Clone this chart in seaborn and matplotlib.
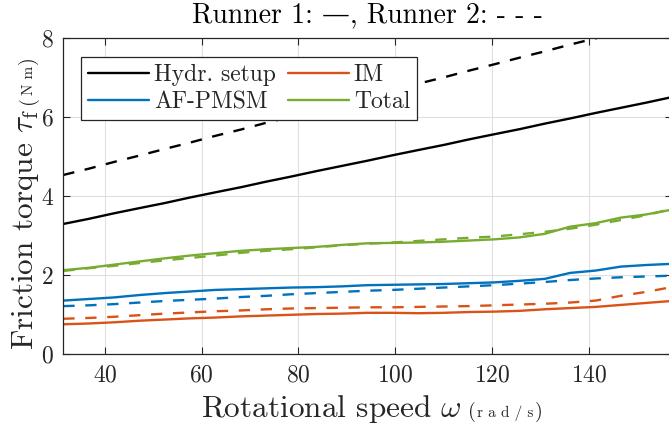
import matplotlib
matplotlib.use("Agg")
import matplotlib.pyplot as plt
from matplotlib.lines import Line2D
import pandas as pd
import seaborn as sns

# ---------------- data ----------------
omega = [31.4, 36.7, 41.9, 47.1, 52.4, 57.6, 62.8, 68.1, 73.3, 78.5, 83.8, 89.0, 94.2,
         99.5, 104.7, 110.0, 115.2, 120.4, 125.7, 130.9, 136.1, 141.4, 146.6, 151.8, 157.1]

hydr_r1 = [3.30, 3.43, 3.57, 3.70, 3.83, 3.97, 4.10, 4.23, 4.37, 4.50, 4.64, 4.77, 4.90,
           5.04, 5.17, 5.30, 5.44, 5.57, 5.70, 5.84, 5.97, 6.11, 6.24, 6.37, 6.51]
hydr_r2 = [4.54, 4.70, 4.87, 5.03, 5.20, 5.36, 5.53, 5.69, 5.86, 6.02, 6.19, 6.35, 6.52,
           6.68, 6.85, 7.01, 7.18, 7.34, 7.51, 7.67, 7.84, 8.00, 8.17, 8.33, 8.50]
afpmsm_r1 = [1.36, 1.40, 1.44, 1.50, 1.55, 1.59, 1.63, 1.65, 1.67, 1.69, 1.70, 1.72, 1.75,
             1.76, 1.77, 1.78, 1.80, 1.82, 1.86, 1.91, 2.06, 2.12, 2.22, 2.26, 2.29]
afpmsm_r2 = [1.22, 1.24, 1.27, 1.31, 1.35, 1.38, 1.41, 1.45, 1.48, 1.52, 1.55, 1.58, 1.61,
             1.63, 1.66, 1.69, 1.72, 1.75, 1.79, 1.83, 1.88, 1.92, 1.95, 1.97, 1.99]
im_r1 = [0.76, 0.78, 0.81, 0.85, 0.88, 0.91, 0.93, 0.96, 0.98, 1.00, 1.02, 1.03, 1.05,
         1.05, 1.04, 1.05, 1.07, 1.08, 1.10, 1.14, 1.17, 1.20, 1.25, 1.30, 1.35]
im_r2 = [0.90, 0.92, 0.95, 0.99, 1.03, 1.06, 1.09, 1.11, 1.14, 1.16, 1.17, 1.18, 1.19,
         1.19, 1.20, 1.21, 1.22, 1.24, 1.26, 1.28, 1.31, 1.36, 1.48, 1.58, 1.70]
total_r1 = [2.13, 2.19, 2.27, 2.35, 2.43, 2.50, 2.56, 2.62, 2.66, 2.69, 2.72, 2.77, 2.81,
            2.82, 2.83, 2.85, 2.88, 2.91, 2.96, 3.05, 3.23, 3.32, 3.46, 3.54, 3.66]
total_r2 = [2.11, 2.18, 2.24, 2.31, 2.38, 2.44, 2.50, 2.57, 2.62, 2.66, 2.71, 2.76, 2.80,
            2.83, 2.87, 2.91, 2.95, 2.98, 3.04, 3.10, 3.18, 3.28, 3.40, 3.52, 3.68]

components = ["Hydr. setup", "AF-PMSM", "IM", "Total"]
runners = ["Runner 1", "Runner 2"]
x_ticks = [40, 60, 80, 100, 120, 140]
y_ticks = [0, 2, 4, 6, 8]

colors = {"Hydr. setup": "#000000", "AF-PMSM": "#0072BD", "IM": "#D95319", "Total": "#77AC30"}

series = {
    ("Hydr. setup", "Runner 1"): hydr_r1, ("Hydr. setup", "Runner 2"): hydr_r2,
    ("AF-PMSM", "Runner 1"): afpmsm_r1, ("AF-PMSM", "Runner 2"): afpmsm_r2,
    ("IM", "Runner 1"): im_r1, ("IM", "Runner 2"): im_r2,
    ("Total", "Runner 1"): total_r1, ("Total", "Runner 2"): total_r2,
}
rows = []
for (comp, run), vals in series.items():
    for w, t in zip(omega, vals):
        rows.append({"omega": w, "torque": t, "component": comp, "runner": run})
df = pd.DataFrame(rows)

# ---------------- style ----------------
sns.set_theme(style="ticks")
plt.rcParams.update({
    "font.family": ["cmr10", "DejaVu Serif"],
    "mathtext.fontset": "cm",
    "axes.unicode_minus": False,
    "axes.formatter.use_mathtext": True,
})
fg = "#262626"
W, H = 669, 428

fig = plt.figure(figsize=(W / 100, H / 100), dpi=100)
ax = fig.add_axes([0.0946, 0.1722, 0.9093, 0.7383])

sns.lineplot(data=df, x="omega", y="torque", hue="component", style="runner",
             hue_order=components, style_order=runners, palette=colors,
             dashes={"Runner 1": "", "Runner 2": (4.8, 4.5)},
             linewidth=1.7, estimator=None, sort=False, legend=False, ax=ax)

ax.set_xlim(31.4, 157.1)
ax.set_ylim(0, 8)
ax.set_xticks(x_ticks)
ax.set_yticks(y_ticks)
ax.grid(True, color="#dfdfdf", linewidth=0.8)
ax.set_axisbelow(True)
for s in ax.spines.values():
    s.set_visible(True)
    s.set_color(fg)
    s.set_linewidth(0.9)
ax.tick_params(direction="in", length=5, width=0.8, colors=fg, labelsize=17,
               top=True, right=True, pad=7)
ax.set_xlabel("")
ax.set_ylabel("")

# title
fig.text(0.549, 1 - 22 / H, "Runner 1: \u2014, Runner 2: - - -", fontsize=20,
         color="#000000", ha="center", va="baseline")

handles = [Line2D([0], [0], color=colors[c], linewidth=1.7) for c in components]
leg = ax.legend(handles, components, ncol=2, loc="upper left",
                bbox_to_anchor=(0.029, 0.941), borderaxespad=0, fontsize=17,
                frameon=True, fancybox=False, framealpha=1, edgecolor=fg,
                handlelength=2.6, handletextpad=0.2, columnspacing=0.5,
                labelspacing=0.2, borderpad=0.3)
leg.get_frame().set_linewidth(0.9)

# axis labels built from pieces of different sizes
fig.canvas.draw()
rend = fig.canvas.get_renderer()


def chain_x(pieces, x_px, base_px):
    pos = x_px
    for txt, size, gap in pieces:
        t = fig.text(pos / W, 1 - base_px / H, txt, fontsize=size, color=fg,
                     ha="left", va="baseline")
        bb = t.get_window_extent(rend)
        pos = bb.x1 + gap


def chain_y(pieces, base_px, y_px):
    pos = H - y_px
    for txt, size, gap in pieces:
        t = fig.text(base_px / W, pos / H, txt, fontsize=size, color=fg, rotation=90,
                     rotation_mode="anchor", ha="left", va="baseline")
        bb = t.get_window_extent(rend)
        pos = bb.y1 + gap


chain_x([(r"Rotational speed $\omega$", 22.5, 6), ("(", 14.5, 1.5),
         ("r a d / s", 11, 1.5), (")", 14.5, 0)], 201, 417)
chain_y([(r"Friction torque $\tau_\mathrm{f}$", 22.5, 5), ("(", 14.5, 1.5),
         ("N m", 11, 1.5), (")", 14.5, 0)], 33, 350)

fig.savefig("out.png", dpi=100)
